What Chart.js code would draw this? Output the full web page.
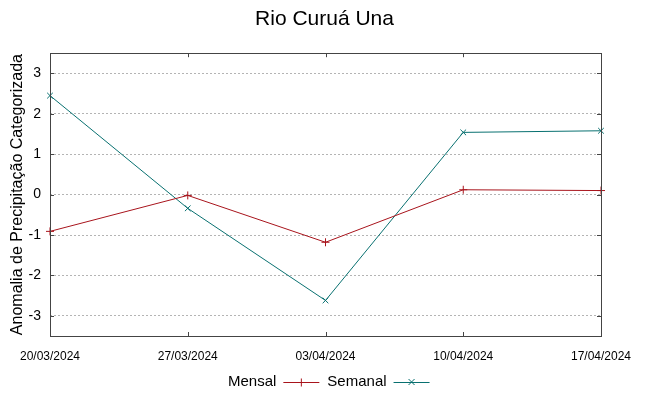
<!DOCTYPE html>
<html>
<head>
<meta charset="utf-8">
<script src="https://cdn.jsdelivr.net/npm/chart.js@4"></script>
<style>
  html, body { margin: 0; padding: 0; background: #fff; }
  #wrap { width: 649px; height: 396px; }
</style>
</head>
<body>
<div id="wrap"><canvas id="chart"></canvas></div>
<script>
var dates = ["20/03/2024", "27/03/2024", "03/04/2024", "10/04/2024", "17/04/2024"];
var mensal = [-0.91, -0.02, -1.18, 0.12, 0.10];
var semanal = [2.45, -0.34, -2.62, 1.54, 1.58];
var yTicks = [-3, -2, -1, 0, 1, 2, 3];

var FONT = "'Liberation Sans', Arial, sans-serif";
var RED = '#a8141c';
var TEAL = '#087070';

// gnuplot-like frame, inward ticks and the legend under the axis
var frame = {
    id: 'frame',
    afterDatasetsDraw: function (chart) {
        var c = chart.ctx, a = chart.chartArea;
        var x = chart.scales.x, y = chart.scales.y;
        var t = 4;
        c.save();
        c.strokeStyle = '#444';
        c.lineWidth = 1;
        c.beginPath();
        x.ticks.forEach(function (tk, i) {
            var px = Math.round(x.getPixelForTick(i)) + 0.5;
            c.moveTo(px, a.bottom); c.lineTo(px, a.bottom - t);
            c.moveTo(px, a.top); c.lineTo(px, a.top + t);
        });
        y.ticks.forEach(function (tk, i) {
            var py = Math.round(y.getPixelForTick(i)) + 0.5;
            c.moveTo(a.left, py); c.lineTo(a.left + t, py);
            c.moveTo(a.right, py); c.lineTo(a.right - t, py);
        });
        c.stroke();
        c.strokeRect(Math.round(a.left) + 0.5, Math.round(a.top) + 0.5,
            Math.round(a.right - a.left), Math.round(a.bottom - a.top));

        // legend: text, then line sample with marker
        c.font = '15px ' + FONT;
        c.textBaseline = 'middle';
        c.fillStyle = '#000';
        var ly = 382, lx = 228;
        chart.data.datasets.forEach(function (ds) {
            c.fillText(ds.label, lx, ly);
            lx += c.measureText(ds.label).width + 7;
            c.strokeStyle = ds.borderColor;
            c.beginPath();
            c.moveTo(lx, ly + 0.5); c.lineTo(lx + 36, ly + 0.5);
            var mx = lx + 18;
            if (ds.pointStyle === 'cross') {
                c.moveTo(mx - 4, ly + 0.5); c.lineTo(mx + 4, ly + 0.5);
                c.moveTo(mx, ly - 3.5); c.lineTo(mx, ly + 4.5);
            } else {
                c.moveTo(mx - 3, ly - 3); c.lineTo(mx + 3, ly + 3);
                c.moveTo(mx - 3, ly + 3); c.lineTo(mx + 3, ly - 3);
            }
            c.stroke();
            lx += 44;
        });
        c.restore();
    }
};

new Chart(document.getElementById('chart'), {
    type: 'line',
    data: {
        labels: dates,
        datasets: [{
            label: 'Mensal',
            data: mensal,
            borderColor: RED,
            backgroundColor: RED,
            borderWidth: 1,
            pointStyle: 'cross',
            pointRadius: 4,
            pointBorderWidth: 1,
            tension: 0
        }, {
            label: 'Semanal',
            data: semanal,
            borderColor: TEAL,
            backgroundColor: TEAL,
            borderWidth: 1,
            pointStyle: 'crossRot',
            pointRadius: 4,
            pointBorderWidth: 1,
            tension: 0
        }]
    },
    options: {
        responsive: true,
        maintainAspectRatio: false,
        animation: false,
        layout: { padding: 0 },
        plugins: {
            legend: { display: false },
            tooltip: { enabled: false },
            title: {
                display: true,
                text: 'Rio Curuá Una',
                color: '#000',
                font: { family: FONT, size: 21, weight: 'normal' },
                padding: { top: 7, bottom: 21 }
            }
        },
        scales: {
            x: {
                type: 'category',
                offset: false,
                grid: { display: false, drawTicks: false },
                border: { display: false },
                ticks: {
                    color: '#000',
                    font: { family: FONT, size: 12 },
                    padding: 13,
                    maxRotation: 0,
                    autoSkip: false
                },
                afterFit: function (s) { s.height = 60; }
            },
            y: {
                min: -3.5,
                max: 3.5,
                afterBuildTicks: function (s) {
                    s.ticks = yTicks.map(function (v) { return { value: v }; });
                },
                grid: {
                    color: '#b4b4b4',
                    lineWidth: 1,
                    drawTicks: false
                },
                border: { display: false, dash: [2, 2] },
                ticks: {
                    color: '#000',
                    font: { family: FONT, size: 14 },
                    padding: 9
                },
                title: {
                    display: true,
                    text: 'Anomalia de Precipitação Categorizada',
                    color: '#000',
                    font: { family: FONT, size: 16 },
                    padding: { top: 8, bottom: 0 }
                },
                afterFit: function (s) { s.width = 50; }
            },
            // empty right margin so the title stays centred on the page
            yRight: {
                position: 'right',
                grid: { display: false },
                border: { display: false },
                ticks: { display: false },
                afterFit: function (s) { s.width = 48; }
            }
        }
    },
    plugins: [frame]
});
</script>
</body>
</html>
